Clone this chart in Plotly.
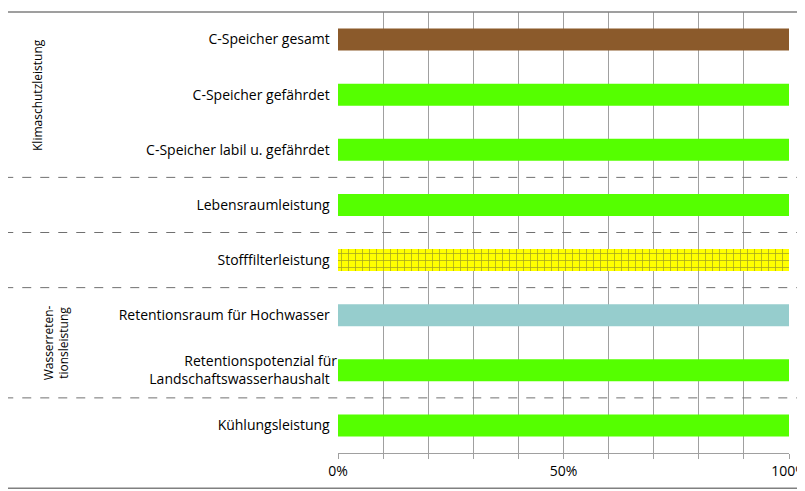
import plotly.graph_objects as go

categories = ["C-Speicher gesamt", "C-Speicher gefährdet", "C-Speicher labil u. gefährdet",
              "Lebensraumleistung", "Stofffilterleistung", "Retentionsraum für Hochwasser",
              "Retentionspotenzial für<br>Landschaftswasserhaushalt", "Kühlungsleistung"]
values = [1, 1, 1, 1, 1, 1, 1, 1]
colors = ["#8B5A2B", "#55FF00", "#55FF00", "#55FF00", "#FFFF00", "#96CDCD", "#55FF00", "#55FF00"]
patterns = ["", "", "", "", "+", "", "", ""]
tick_vals = [i / 10 for i in range(11)]
tick_text = ["0%", "", "", "", "", "50%", "", "", "", "", "100%"]
separators = [2.5, 3.5, 4.5, 6.5]

fig = go.Figure(go.Bar(
    x=values, y=categories, orientation="h", width=0.4,
    marker=dict(color=colors, line=dict(width=0),
                pattern=dict(shape=patterns, fgcolor="black", bgcolor="#FFFF00", size=7, solidity=0.2)),
))
fig.update_layout(
    width=805, height=491, margin=dict(l=330, r=24, t=4, b=46),
    paper_bgcolor="white", plot_bgcolor="white", showlegend=False,
    font=dict(family="Open Sans", size=14, color="black"),
    bargap=0.6,
)
fig.update_xaxes(range=[0, 1], tickvals=tick_vals, ticktext=tick_text, showgrid=True,
                 gridcolor="#A0A0A0", gridwidth=1, zeroline=False, showline=True,
                 linecolor="#A0A0A0", ticks="outside", tickcolor="#A0A0A0", ticklen=5)
fig.update_yaxes(range=[7.5, -0.5], showgrid=False, zeroline=False, showline=False,
                 ticksuffix="  ")
for s in separators:
    fig.add_shape(type="line", xref="paper", yref="y", x0=-0.74, x1=1.05, y0=s, y1=s,
                  line=dict(color="#707070", width=1, dash="dash"))
fig.add_shape(type="rect", xref="paper", yref="paper", x0=-0.745, x1=1.052, y0=-0.08, y1=1.0,
              line=dict(color="#808080", width=1.5))
fig.add_annotation(xref="paper", yref="y", x=-0.69, y=1, text="Klimaschutzleistung",
                   textangle=-90, showarrow=False, font=dict(size=12))
fig.add_annotation(xref="paper", yref="y", x=-0.665, y=5.5, text="Wasserreten-<br>tionsleistung",
                   textangle=-90, showarrow=False, font=dict(size=12))
fig.write_html("out.html")
